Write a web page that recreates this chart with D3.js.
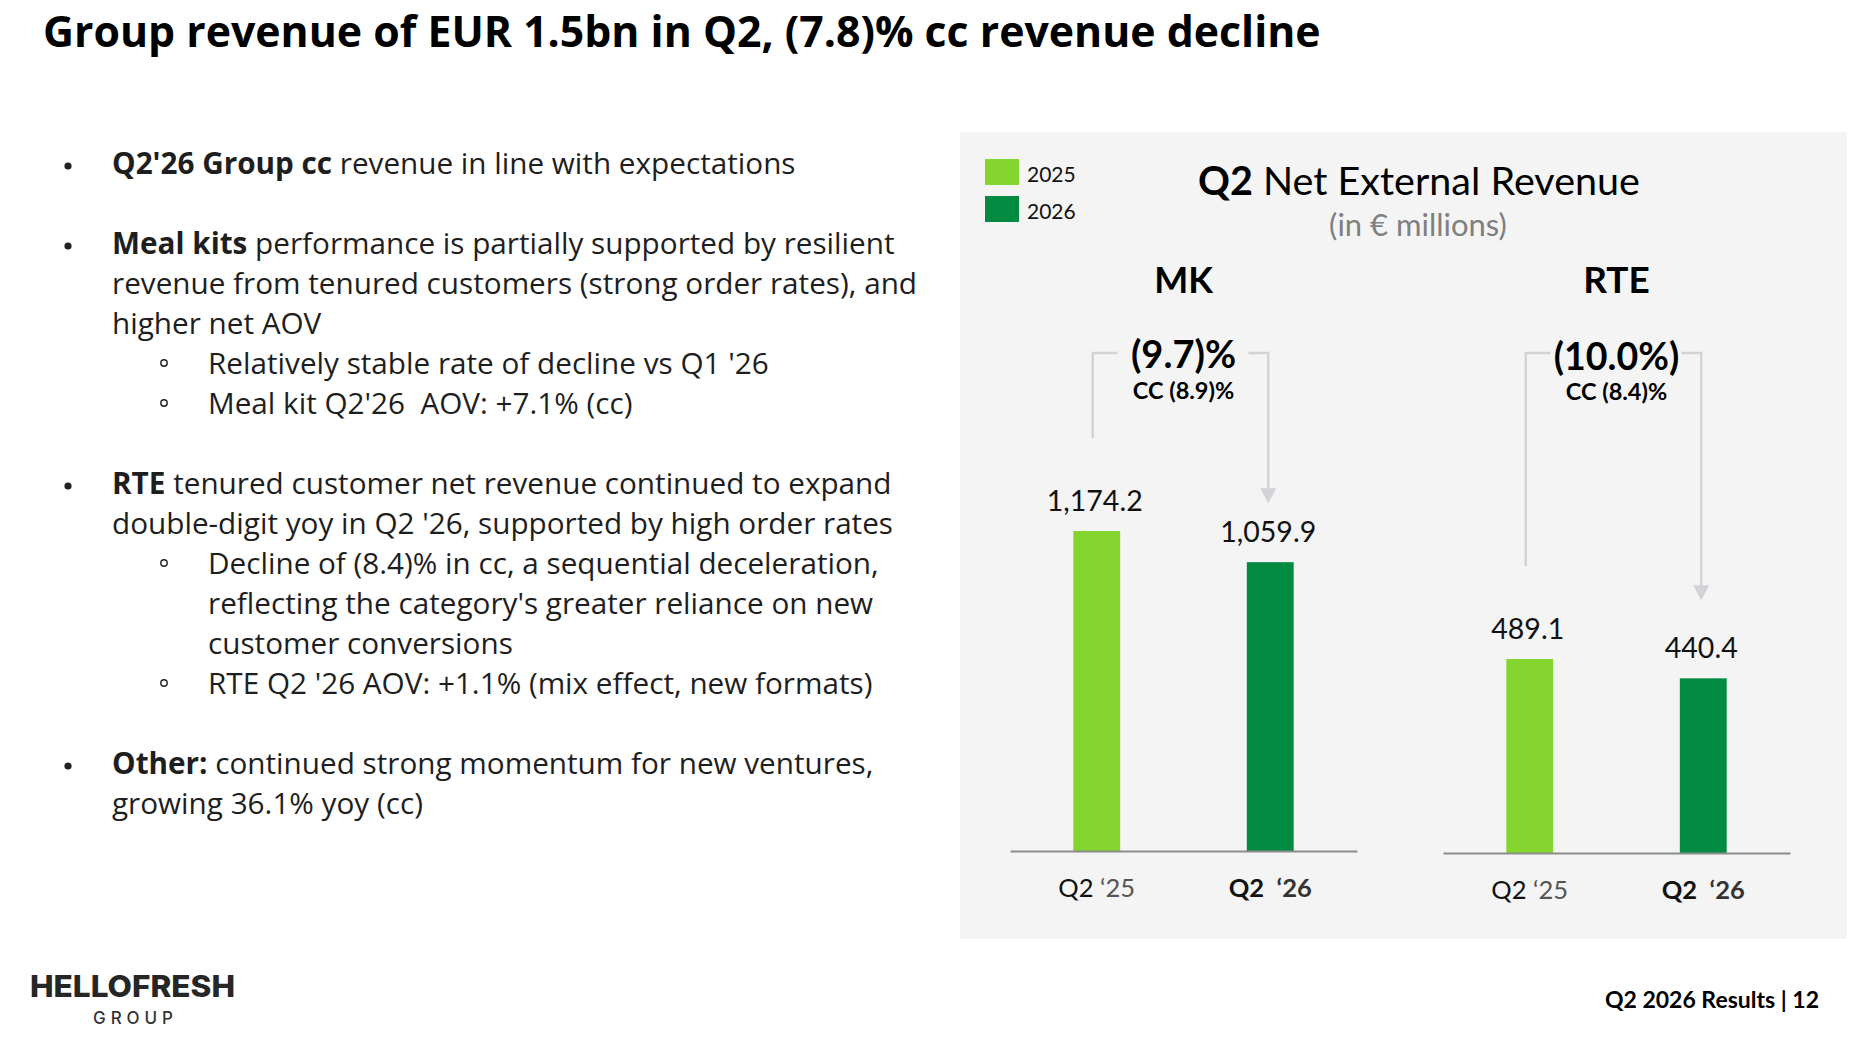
<!DOCTYPE html>
<html>
<head>
<meta charset="utf-8">
<script src="https://cdn.jsdelivr.net/npm/d3@7"></script>
<style>
  body { margin: 0; background: #fff; }
  svg { display: block; font-family: Lato, "Source Sans Pro", sans-serif; }
  .copy { font-family: "Open Sans", sans-serif; }
</style>
</head>
<body>
<svg class="slide" width="1868" height="1038"></svg>
<script>
// chart values
var segments = ["MK", "RTE"];
var periods = ["Q2 \u201825", "Q2 \u201826"];
var years = ["2025", "2026"];
var mkRevenue = [1174.2, 1059.9];
var rteRevenue = [489.1, 440.4];
var reportedChange = ["(9.7)%", "(10.0%)"];
var ccChange = ["CC (8.9)%", "CC (8.4)%"];

// slide text, [text, bold] runs per line
var bulletLines = [
  {level: 1, gap: false, runs: [["Q2'26 Group cc", true], [" revenue in line with expectations", false]]},
  {level: 1, gap: true, runs: [["Meal kits", true], [" performance is partially supported by resilient", false]]},
  {level: 0, gap: false, runs: [["revenue from tenured customers (strong order rates), and", false]]},
  {level: 0, gap: false, runs: [["higher net AOV", false]]},
  {level: 2, gap: false, runs: [["Relatively stable rate of decline vs Q1 '26", false]]},
  {level: 2, gap: false, runs: [["Meal kit Q2'26\u00a0 AOV: +7.1% (cc)", false]]},
  {level: 1, gap: true, runs: [["RTE", true], [" tenured customer net revenue continued to expand", false]]},
  {level: 0, gap: false, runs: [["double-digit yoy in Q2 '26, supported by high order rates", false]]},
  {level: 2, gap: false, runs: [["Decline of (8.4)% in cc, a sequential deceleration,", false]]},
  {level: 0, gap: false, runs: [["reflecting the category's greater reliance on new", false]], sub: true},
  {level: 0, gap: false, runs: [["customer conversions", false]], sub: true},
  {level: 2, gap: false, runs: [["RTE Q2 '26 AOV: +1.1% (mix effect, new formats)", false]]},
  {level: 1, gap: true, runs: [["Other:", true], [" continued strong momentum for new ventures,", false]]},
  {level: 0, gap: false, runs: [["growing 36.1% yoy (cc)", false]]}
];

var svg = d3.select(".slide");
var colors = d3.scaleOrdinal().domain(years).range(["#84d62f", "#018a40"]);

//slide title
svg.append("text")
    .attr("class", "copy")
    .attr("x", 43)
    .attr("y", 47)
    .style("font-size", "42.8px")
    .style("font-weight", 700)
    .style("fill", "#000")
    .text("Group revenue of EUR 1.5bn in Q2, (7.8)% cc revenue decline");

//bullet list
var lineY = 174;
bulletLines.forEach(function(line, i) {
  if (i > 0) lineY += line.gap ? 80 : 40;
  var indent = (line.level === 2 || line.sub) ? 208 : 112;
  if (line.level === 1) {
    svg.append("circle").attr("cx", 68).attr("cy", lineY - 8).attr("r", 3.6).style("fill", "#222");
  }
  if (line.level === 2) {
    svg.append("circle").attr("cx", 164).attr("cy", lineY - 11).attr("r", 3.2)
        .style("fill", "none").style("stroke", "#222").style("stroke-width", 1.4);
  }
  var t = svg.append("text")
      .attr("class", "copy")
      .attr("x", indent)
      .attr("y", lineY)
      .style("font-size", "29.7px")
      .style("fill", "#1e1e1e")
      .attr("xml:space", "preserve");
  line.runs.forEach(function(r) {
    t.append("tspan").style("font-weight", r[1] ? 700 : 400).text(r[0]);
  });
});

//chart panel
var panel = {x: 960, y: 132, w: 887, h: 807};
svg.append("rect")
    .attr("x", panel.x).attr("y", panel.y)
    .attr("width", panel.w).attr("height", panel.h)
    .style("fill", "#f4f4f4");

//legend
var legend = svg.selectAll(".legend")
    .data(years)
    .enter().append("g")
    .attr("class", "legend")
    .attr("transform", function(d, i) { return "translate(985," + (159 + i * 37) + ")"; });
legend.append("rect").attr("width", 34).attr("height", 26).style("fill", function(d) { return colors(d); });
legend.append("text").attr("x", 42).attr("y", 23).style("font-size", "21px").style("fill", "#111").text(function(d) { return d; });

//chart title
var title = svg.append("text")
    .attr("x", 1419).attr("y", 195)
    .style("font-size", "39.5px")
    .style("text-anchor", "middle")
    .style("fill", "#000");
title.append("tspan").style("font-weight", 700).text("Q2");
title.append("tspan").text(" Net External Revenue");

svg.append("text")
    .attr("x", 1418).attr("y", 236)
    .style("font-size", "31px")
    .style("text-anchor", "middle")
    .style("fill", "#7f7f7f")
    .text("(in \u20ac millions)");

//one small bar chart per segment
var groups = [
  {name: segments[0], values: mkRevenue, left: 1010, base: 851, max: 1200, top: 524, pct: reportedChange[0], cc: ccChange[0]},
  {name: segments[1], values: rteRevenue, left: 1443, base: 853, max: 500, top: 654.7, pct: reportedChange[1], cc: ccChange[1]}
];

groups.forEach(function(grp, gi) {
  var x = d3.scaleBand().domain(periods).range([grp.left, grp.left + 347]).paddingInner(0.73).paddingOuter(0.365);
  var y = d3.scaleLinear().domain([0, grp.max]).range([grp.base, grp.top]);
  var data = periods.map(function(p, i) { return {period: p, year: years[i], value: grp.values[i]}; });
  var cx = (x(periods[0]) + x(periods[1]) + x.bandwidth()) / 2;
  var g = svg.append("g");

  g.append("text")
      .attr("x", cx).attr("y", 293)
      .style("font-size", gi ? "37px" : "36px").style("font-weight", 700)
      .style("text-anchor", "middle")
      .text(grp.name);

  //bars
  g.selectAll(".bar")
      .data(data)
      .enter().append("rect")
      .attr("class", "bar")
      .attr("x", function(d) { return x(d.period); })
      .attr("y", function(d) { return y(d.value); })
      .attr("width", x.bandwidth())
      .attr("height", function(d) { return grp.base - y(d.value); })
      .style("fill", function(d) { return colors(d.year); });

  g.selectAll(".bar-label")
      .data(data)
      .enter().append("text")
      .attr("class", "bar-label")
      .attr("x", function(d) { return x(d.period) + x.bandwidth() / 2 - 2; })
      .attr("y", function(d) { return y(d.value) - 20; })
      .style("font-size", "28.5px")
      .style("text-anchor", "middle")
      .style("fill", "#111")
      .text(function(d) { return d3.format(",.1f")(d.value); });

  //axis
  var axis = g.append("g")
      .attr("class", "axis")
      .attr("transform", "translate(0," + grp.base + ")")
      .call(d3.axisBottom(x).tickSize(0).tickSizeOuter(0));
  axis.select(".domain").style("stroke", "#8c8c8c").style("stroke-width", 2);
  axis.selectAll(".tick text")
      .attr("y", 46).attr("dy", 0)
      .style("font-family", "Lato, sans-serif")
      .style("font-size", "25.5px")
      .each(function(d, i) {
        var t = d3.select(this).text(null).attr("xml:space", "preserve");
        var parts = d.split(" ");
        t.append("tspan").style("fill", "#111").style("font-weight", i ? 700 : 400).text(parts[0] + (i ? "\u00a0 " : " "));
        t.append("tspan").style("fill", i ? "#333" : "#555").style("font-weight", i ? 700 : 400).text(parts[1]);
      });

  //change bracket
  var x1 = x(periods[0]) + x.bandwidth() / 2 - 4,
      x2 = x(periods[1]) + x.bandwidth() / 2 - 2,
      by = 353,
      tipY = y(grp.values[1]) - (gi === 1 ? 78 : 59);
  var bracket = "#d2d3d7";
  g.append("path")
      .attr("d", "M" + x1 + "," + (y(grp.values[0]) - 93) + "V" + by + "H" + (cx - 66))
      .style("fill", "none").style("stroke", bracket).style("stroke-width", 2.5);
  g.append("path")
      .attr("d", "M" + (cx + 65) + "," + by + "H" + x2 + "V" + (tipY - 14))
      .style("fill", "none").style("stroke", bracket).style("stroke-width", 2.5);
  g.append("path")
      .attr("d", "M" + (x2 - 8) + "," + (tipY - 15) + "L" + (x2 + 8) + "," + (tipY - 15) + "L" + x2 + "," + tipY + "Z")
      .style("fill", bracket);

  g.append("text")
      .attr("x", cx).attr("y", 368 + gi * 2)
      .style("font-size", gi ? "37.5px" : "38px").style("font-weight", 700)
      .style("text-anchor", "middle")
      .text(grp.pct);
  g.append("text")
      .attr("x", cx).attr("y", 399 + gi)
      .style("font-size", "23.5px").style("font-weight", 700)
      .style("text-anchor", "middle")
      .text(grp.cc);
});

//footer
svg.append("text")
    .attr("x", 30).attr("y", 997)
    .attr("textLength", 205).attr("lengthAdjust", "spacingAndGlyphs")
    .style("font-family", "Inter, sans-serif")
    .style("font-size", "30px").style("font-weight", 800)
    .style("fill", "#262626")
    .text("HELLOFRESH");
svg.append("text")
    .attr("x", 93).attr("y", 1024)
    .attr("textLength", 80).attr("lengthAdjust", "spacing")
    .style("font-family", "Inter, sans-serif")
    .style("font-size", "17px").style("font-weight", 500)
    .style("fill", "#333")
    .text("GROUP");
svg.append("text")
    .attr("x", 1819).attr("y", 1008)
    .style("font-size", "23px").style("font-weight", 700)
    .style("text-anchor", "end")
    .text("Q2 2026 Results | 12");
</script>
</body>
</html>
